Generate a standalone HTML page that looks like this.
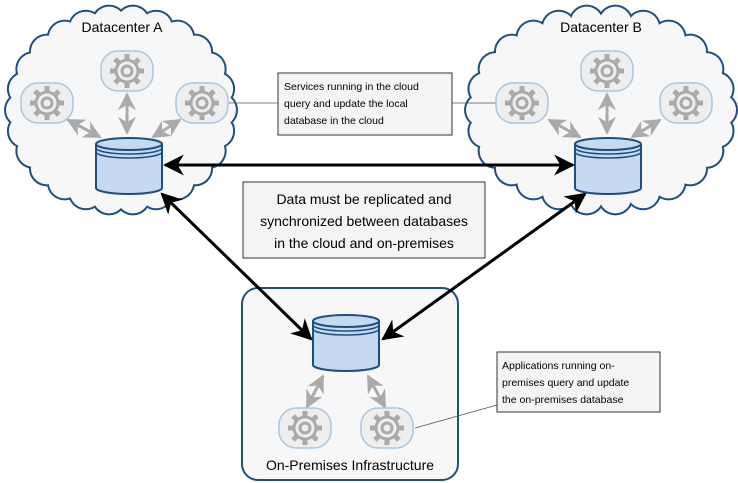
<!DOCTYPE html>
<html><head><meta charset="utf-8"><style>
html,body{margin:0;padding:0;background:#fff;}
svg{display:block;}
text{font-family:"Liberation Sans",sans-serif;}
</style></head><body>
<svg id="s" width="738" height="483" viewBox="0 0 738 483" xmlns="http://www.w3.org/2000/svg">
<defs>
<marker id="ab" viewBox="0 0 10 10" refX="9" refY="5" markerWidth="7" markerHeight="7" orient="auto-start-reverse"><path d="M0,0 L10,5 L0,10 L3,5 z" fill="#000"/></marker>
<marker id="ag" viewBox="0 0 10 10" refX="9" refY="5" markerWidth="6" markerHeight="6" orient="auto-start-reverse"><path d="M0,0 L10,5 L0,10 L3,5 z" fill="#aaa"/></marker>
<g id="gear">
<rect x="-26" y="-20" width="52" height="40" rx="17" fill="#eee" stroke="#a9c6e2" stroke-width="1.5"/>
<g stroke="#aaa" stroke-width="5"><line x1="0" y1="-17" x2="0" y2="17"/><line x1="-17" y1="0" x2="17" y2="0"/><line x1="-12" y1="-12" x2="12" y2="12"/><line x1="-12" y1="12" x2="12" y2="-12"/></g>
<circle r="12.5" fill="#aaa"/>
<circle r="9.5" fill="#eee"/><circle r="5" fill="none" stroke="#aaa" stroke-width="3"/>
</g>
<g id="db">
<path d="M-33,-22 L-33,22 A33,6 0 0 0 33,22 L33,-22" fill="#c5d9f0" stroke="#1f4e80" stroke-width="2"/>
<ellipse cy="-22" rx="33" ry="6" fill="#c5d9f0" stroke="#1f4e80" stroke-width="2"/>
<path d="M-33,-18 A33,6 0 0 0 33,-18 M-33,-14 A33,6 0 0 0 33,-14" fill="none" stroke="#1f4e80" stroke-width="1.5"/>
</g>
</defs>
<g id="clouds"></g>
<rect x="242" y="288" width="216" height="192" rx="16" fill="#f7f7f7" stroke="#1f4e80" stroke-width="2"/>
<text x="122" y="32" font-size="14" text-anchor="middle">Datacenter A</text>
<text x="601" y="32" font-size="14" text-anchor="middle">Datacenter B</text>
<text x="350" y="470" font-size="14" text-anchor="middle">On-Premises Infrastructure</text>
<line x1="229" y1="103" x2="278" y2="103" stroke="#555" stroke-width="0.8"/>
<line x1="452" y1="103" x2="496" y2="103" stroke="#555" stroke-width="0.8"/>
<line x1="415" y1="428" x2="497" y2="405" stroke="#555" stroke-width="0.8"/>
<g stroke="#aaa" stroke-width="3" marker-start="url(#ag)" marker-end="url(#ag)">
<line x1="68" y1="120" x2="100" y2="137"/><line x1="127" y1="94" x2="127" y2="133"/><line x1="180" y1="120" x2="153" y2="137"/>
<line x1="549" y1="120" x2="580" y2="137"/><line x1="607" y1="94" x2="607" y2="133"/><line x1="660" y1="120" x2="632" y2="137"/>
<line x1="307" y1="407" x2="323" y2="376"/><line x1="385" y1="407" x2="368" y2="376"/>
</g>
<use href="#gear" x="47" y="103"/><use href="#gear" x="127" y="71"/><use href="#gear" x="202" y="103"/>
<use href="#gear" x="522" y="103"/><use href="#gear" x="607" y="71"/><use href="#gear" x="686" y="103"/>
<use href="#gear" x="305" y="428"/><use href="#gear" x="387" y="428"/>
<use href="#db" x="129" y="166"/><use href="#db" x="608" y="166"/><use href="#db" x="346" y="343"/>
<g stroke="#000" stroke-width="3" marker-start="url(#ab)" marker-end="url(#ab)">
<line x1="165" y1="165" x2="573" y2="165"/>
<line x1="162" y1="194" x2="311" y2="339"/>
<line x1="585" y1="194" x2="383" y2="339"/>
</g>
<rect x="278" y="73" width="174" height="62" fill="#f4f4f4" stroke="#333"/>
<text font-size="10.5" fill="#000"><tspan x="284" y="90">Services running in the cloud</tspan><tspan x="284" y="107">query and update the local</tspan><tspan x="284" y="124">database in the cloud</tspan></text>
<rect x="243" y="182" width="242" height="76" fill="#f4f4f4" stroke="#333"/>
<text font-size="14" text-anchor="middle"><tspan x="364" y="204">Data must be replicated and</tspan><tspan x="364" y="226">synchronized between databases</tspan><tspan x="364" y="248">in the cloud and on-premises</tspan></text>
<rect x="497" y="352" width="163" height="60" fill="#f4f4f4" stroke="#333"/>
<text font-size="10.5"><tspan x="502" y="369">Applications running on-</tspan><tspan x="502" y="386">premises query and update</tspan><tspan x="502" y="403">the on-premises database</tspan></text>
</svg>
<script>
(function(){
var ns="http://www.w3.org/2000/svg",g=document.getElementById("clouds");
function cloud(cx,cy,rx,ry){
 var n=26,r=17,pts=[];
 for(var i=0;i<n;i++){var a=i/n*2*Math.PI;pts.push([cx+(rx-r)*Math.cos(a),cy+(ry-r)*Math.sin(a)]);}
 var layers=[["#1f4e80",r+1],["#f7f7f7",r-1]];
 layers.forEach(function(L){
  pts.forEach(function(p){var c=document.createElementNS(ns,"circle");c.setAttribute("cx",p[0]);c.setAttribute("cy",p[1]);c.setAttribute("r",L[1]);c.setAttribute("fill",L[0]);g.appendChild(c);});
  var e=document.createElementNS(ns,"ellipse");e.setAttribute("cx",cx);e.setAttribute("cy",cy);e.setAttribute("rx",rx-r);e.setAttribute("ry",ry-r);e.setAttribute("fill",L[0]);g.appendChild(e);
 });
}
cloud(121,110,116,105);
cloud(601,110,136,105);
})();
</script>
</body></html>
